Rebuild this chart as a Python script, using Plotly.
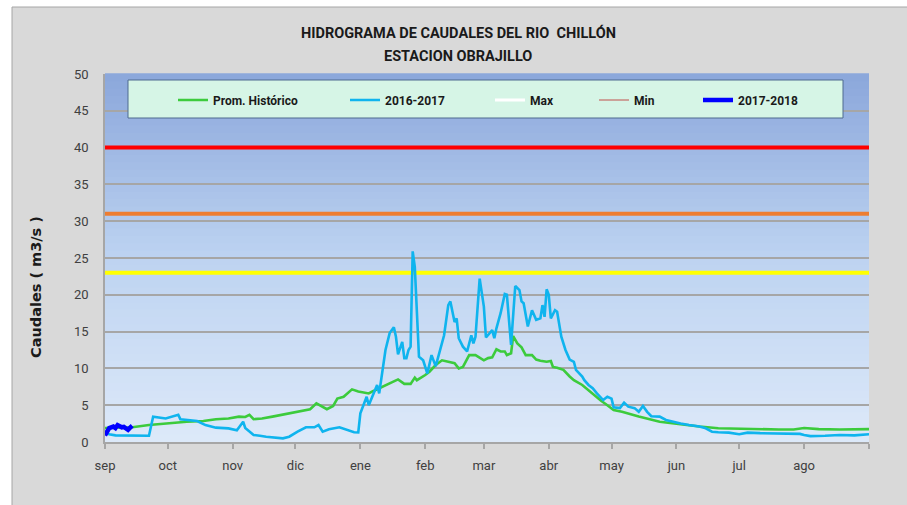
import plotly.graph_objects as go

# ---------------- data ----------------
month_labels = ["sep", "oct", "nov", "dic", "ene", "feb", "mar", "abr", "may", "jun", "jul", "ago", ""]
month_starts = [0, 30, 61, 91, 122, 153, 181, 212, 242, 273, 303, 334, 365]

days_hist = [0, 13, 21, 29, 39, 47, 53, 59, 64, 67, 69, 71, 75, 80, 85, 88, 93, 98, 101, 103, 106, 109,
             111, 114, 118, 121, 126, 128, 134, 140, 143, 146, 148, 149, 153, 155, 158, 161, 164, 167,
             169, 171, 174, 177, 181, 183, 185, 187, 189, 191, 192, 194, 195, 197, 199, 201, 204, 206,
             208, 211, 213, 214, 216, 219, 222, 224, 228, 231, 234, 237, 240, 243, 247, 255, 265, 275,
             284, 293, 303, 313, 322, 329, 334, 341, 351, 365]
prom_hist = [1.9, 2.0, 2.3, 2.5, 2.76, 2.85, 3.1, 3.2, 3.45, 3.4, 3.7, 3.1, 3.2, 3.45, 3.75, 3.9, 4.25,
             4.45, 5.25, 4.9, 4.45, 4.9, 5.9, 6.15, 7.15, 6.85, 6.6, 6.9, 7.75, 8.5, 7.9, 7.9, 8.75, 8.4,
             9.1, 9.55, 10.45, 11.1, 10.9, 10.7, 10.0, 10.2, 11.8, 11.8, 11.1, 11.4, 11.5, 12.6, 12.3,
             12.3, 11.8, 12.05, 14.4, 13.4, 12.85, 11.8, 11.8, 11.2, 11.05, 10.9, 11.0, 10.2, 10.1, 9.8,
             8.9, 8.4, 7.75, 7.05, 6.25, 5.6, 5.0, 4.35, 4.1, 3.45, 2.76, 2.4, 2.1, 1.86, 1.77, 1.75,
             1.7, 1.7, 1.9, 1.75, 1.7, 1.75]

days_1617 = [0, 2, 5, 21, 23, 29, 35, 36, 44, 48, 53, 59, 63, 66, 67, 71, 74, 77, 85, 88, 92, 96, 100,
             102, 104, 107, 112, 115, 119, 121, 122, 125, 126, 130, 131, 134, 136, 138, 139, 140, 142,
             143, 144, 145, 146, 147, 148, 150, 152, 154, 156, 158, 160, 162, 164, 165, 167, 168, 169,
             171, 173, 175, 176, 177, 179, 181, 182, 185, 186, 187, 189, 191, 192, 194, 196, 198, 199,
             200, 202, 204, 206, 208, 209, 210, 211, 212, 213, 215, 216, 218, 220, 222, 224, 225, 228,
             229, 231, 233, 235, 238, 240, 242, 243, 246, 248, 250, 253, 255, 257, 259, 261, 265, 268,
             271, 275, 279, 284, 287, 290, 293, 298, 303, 307, 313, 322, 332, 334, 337, 344, 351, 358, 365]
q_1617 = [1.4, 1.05, 0.9, 0.85, 3.45, 3.2, 3.7, 3.1, 2.85, 2.3, 1.95, 1.85, 1.6, 2.75, 1.9, 0.95, 0.85,
          0.72, 0.5, 0.72, 1.4, 2.0, 2.0, 2.3, 1.4, 1.72, 2.0, 1.72, 1.32, 1.3, 3.9, 6.15, 5.0, 7.75, 6.6,
          12.5, 14.8, 15.6, 14.3, 11.9, 13.6, 11.4, 11.4, 12.5, 12.95, 25.9, 23.8, 11.6, 11.1, 9.3, 11.8,
          10.3, 12.5, 14.5, 18.6, 19.1, 16.3, 16.8, 14.1, 12.95, 12.3, 14.5, 13.4, 14.3, 22.2, 18.4, 14.2,
          15.2, 14.1, 15.45, 17.5, 20.1, 20.0, 13.2, 21.2, 20.65, 19.1, 18.85, 15.7, 17.9, 16.6, 16.8,
          18.6, 17.0, 20.75, 20.0, 16.8, 17.9, 17.7, 14.3, 12.5, 11.2, 10.9, 9.8, 8.9, 8.4, 7.75, 7.3,
          6.6, 5.7, 6.15, 5.9, 4.7, 4.6, 5.35, 4.8, 4.6, 4.1, 4.9, 4.1, 3.5, 3.45, 3.0, 2.75, 2.5, 2.3,
          2.1, 1.86, 1.4, 1.32, 1.27, 1.05, 1.27, 1.2, 1.15, 1.1, 0.95, 0.8, 0.85, 0.95, 0.9, 1.05]

days_1718 = [0, 1, 2, 4, 5, 6, 8, 9, 11, 12, 13]
q_1718 = [0.9, 1.6, 1.9, 2.1, 1.9, 2.3, 2.0, 2.05, 1.65, 1.95, 2.2]

threshold_levels = [40, 31, 23]
threshold_colors = ["#FF0000", "#ED7D31", "#FFFF00"]

# ---------------- layout constants ----------------
W, H = 907, 505
ML, MR, MT, MB = 105, 38, 74, 63
PW = W - ML - MR
PH = H - MT - MB


def px_x(p):
    return (p - ML) / PW


def px_y(p):
    return (H - MB - p) / PH


NARROW = "Liberation Sans Narrow, Arial Narrow, Roboto, sans-serif"

fig = go.Figure()

# threshold lines
for lvl, col in zip(threshold_levels, threshold_colors):
    fig.add_trace(go.Scatter(x=[0, 365], y=[lvl, lvl], mode="lines",
                             line=dict(color=col, width=4), showlegend=False, hoverinfo="skip"))

fig.add_trace(go.Scatter(x=[None], y=[None], mode="lines", name="<b>Max</b>",
                         line=dict(color="#FFFFFF", width=3), legend="legend3"))
fig.add_trace(go.Scatter(x=[None], y=[None], mode="lines", name="<b>Min</b>",
                         line=dict(color="#C0504D", width=1), legend="legend4"))
fig.add_trace(go.Scatter(x=days_hist, y=prom_hist, mode="lines", name="<b>Prom. Histórico</b>",
                         line=dict(color="#3CCB3C", width=2.6), legend="legend"))
fig.add_trace(go.Scatter(x=days_1617, y=q_1617, mode="lines", name="<b>2016-2017</b>",
                         line=dict(color="#0FB4EE", width=2.6), legend="legend2"))
fig.add_trace(go.Scatter(x=days_1718, y=q_1718, mode="lines", name="<b>2017-2018</b>",
                         line=dict(color="#0000FF", width=4.5), legend="legend5"))

# background shapes
shapes = []
# outer gray panel
shapes.append(dict(type="rect", xref="paper", yref="paper",
                   x0=px_x(12), x1=px_x(W + 5), y0=px_y(H + 5), y1=px_y(7),
                   fillcolor="#D9D9D9", line=dict(color="#A6A6A6", width=1), layer="below"))
# vertical gradient in the plot area
top = (139, 167, 219)
mid = (189, 211, 241)
bot = (221, 233, 249)
nb = 50
for i in range(nb):
    v = (i + 0.5) / nb
    if v < 0.5:
        t = v / 0.5
        c = [bot[k] + (mid[k] - bot[k]) * t for k in range(3)]
    else:
        t = (v - 0.5) / 0.5
        c = [mid[k] + (top[k] - mid[k]) * t for k in range(3)]
    col = "rgb(%d,%d,%d)" % tuple(int(round(x)) for x in c)
    shapes.append(dict(type="rect", xref="paper", yref="paper", x0=0, x1=1,
                       y0=i / nb, y1=(i + 1) / nb + 0.002, fillcolor=col,
                       line=dict(width=0), layer="below"))
# legend box
shapes.append(dict(type="rect", xref="paper", yref="paper",
                   x0=px_x(128), x1=px_x(843), y0=px_y(118), y1=px_y(80),
                   fillcolor="#D6F5E6", line=dict(color="#4F6A8F", width=1), layer="above"))

legend_font = dict(family=NARROW, size=12, color="#1a1a1a")
sample_starts = [180, 352, 497, 601, 705]
legend_names = ["legend", "legend2", "legend3", "legend4", "legend5"]
legends = {}
for nm, s in zip(legend_names, sample_starts):
    legends[nm] = dict(x=px_x(s - 7), y=px_y(100), xanchor="left", yanchor="middle",
                       orientation="h", bgcolor="rgba(0,0,0,0)", borderwidth=0,
                       font=legend_font, itemwidth=30, itemclick=False, itemdoubleclick=False)

fig.update_layout(
    width=W, height=H,
    margin=dict(l=ML, r=MR, t=MT, b=MB, pad=0),
    paper_bgcolor="#FFFFFF",
    plot_bgcolor="rgba(0,0,0,0)",
    shapes=shapes,
    showlegend=True,
    **legends,
    annotations=[
        dict(text="<b>HIDROGRAMA DE CAUDALES DEL RIO  CHILLÓN</b>", xref="paper", yref="paper",
             x=px_x(458), y=px_y(33), xanchor="center", yanchor="middle", showarrow=False,
             font=dict(family=NARROW, size=14.5, color="#1a1a1a")),
        dict(text="<b>ESTACION OBRAJILLO</b>", xref="paper", yref="paper",
             x=px_x(458), y=px_y(57), xanchor="center", yanchor="middle", showarrow=False,
             font=dict(family=NARROW, size=14.5, color="#1a1a1a")),
        dict(text="<b>Caudales ( m3/s )</b>", xref="paper", yref="paper",
             x=px_x(36), y=px_y(287), xanchor="center", yanchor="middle", showarrow=False,
             textangle=-90, font=dict(family="DejaVu Sans, Verdana, sans-serif", size=14.5, color="#1a1a1a")),
    ],
    xaxis=dict(range=[0, 365], tickmode="array", tickvals=month_starts, ticktext=month_labels,
               showgrid=False, zeroline=False, showline=True, linecolor="#A6A6A6", linewidth=1.5,
               ticks="outside", ticklen=5, tickcolor="#A6A6A6", tickwidth=1.5,
               tickfont=dict(family=NARROW, size=13, color="#404040"), ticklabelstandoff=6,
               fixedrange=True),
    yaxis=dict(range=[0, 50], tickmode="array", tickvals=list(range(0, 51, 5)),
               showgrid=True, gridcolor="#A6A6A6", gridwidth=1.5, zeroline=False,
               showline=True, linecolor="#A6A6A6", linewidth=1.5, ticks="",
               tickfont=dict(family=NARROW, size=13, color="#404040"), ticklabelstandoff=12,
               fixedrange=True),
)

fig.write_html("out.html", post_script="document.body.style.margin='0';",
               config={"displayModeBar": False})
